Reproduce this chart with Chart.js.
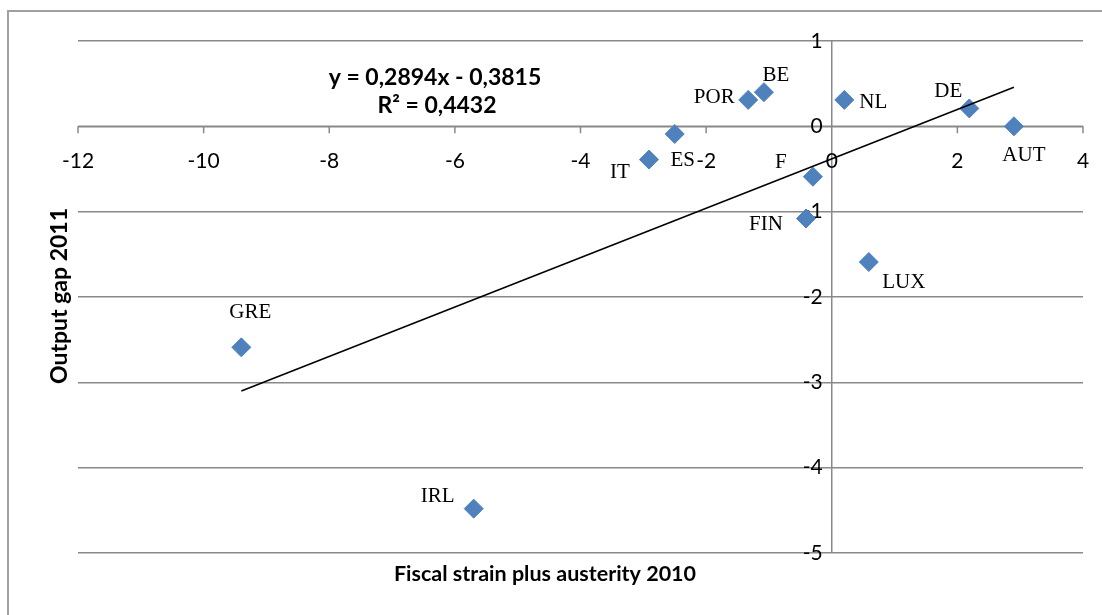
<!doctype html>
<html>
  <head>
    <meta charset="UTF-8">
    <title>Output gap vs fiscal strain</title>
    <script src="https://cdn.jsdelivr.net/npm/chart.js"></script>
    <style>
      body { margin: 0; background: #fff; }
      #wrap { position: relative; width: 1102px; height: 615px; }
    </style>
  </head>
  <body>
    <div id="wrap">
      <canvas id="chart"></canvas>
    </div>
    <script>
      const countries = ['IT', 'ES', 'POR', 'BE', 'F', 'FIN', 'NL', 'LUX', 'DE', 'AUT', 'GRE', 'IRL'];
      const fiscalStrain = [-2.91, -2.5, -1.33, -1.08, -0.3, -0.41, 0.2, 0.59, 2.19, 2.9, -9.4, -5.7];
      const outputGap = [-0.39, -0.09, 0.31, 0.40, -0.59, -1.08, 0.31, -1.59, 0.21, 0, -2.59, -4.48];
      const xTicks = [-12, -10, -8, -6, -4, -2, 0, 2, 4];
      const yTicks = [1, 0, -1, -2, -3, -4, -5];
      const slope = 0.2894;
      const intercept = -0.3815;
      const equationText = 'y = 0,2894x - 0,3815';
      const r2Text = 'R² = 0,4432';

      // where each country name sits relative to its marker (px)
      const labelOffset = {
        IT: [-29, 13], ES: [8, 26], POR: [-34, -2], BE: [12, -17],
        F: [-32, -14], FIN: [-40, 6], NL: [29, 3], LUX: [35, 20],
        DE: [-21, -17], AUT: [10, 29], GRE: [9, -35], IRL: [-36, -12]
      };

      const points = countries.map((c, i) => ({ x: fiscalStrain[i], y: outputGap[i] }));
      const xMin = Math.min(...fiscalStrain), xMax = Math.max(...fiscalStrain);
      const trend = [
        { x: xMin, y: slope * xMin + intercept },
        { x: xMax, y: slope * xMax + intercept }
      ];

      const axisColor = '#898989';
      const sans = 'Lato, "Open Sans", sans-serif';

      const excelAxes = {
        id: 'excelAxes',
        beforeDraw(chart) {
          const ctx = chart.ctx;
          ctx.save();
          ctx.strokeStyle = '#a0a0a0';
          ctx.lineWidth = 2;
          ctx.beginPath();
          ctx.moveTo(8, 700);
          ctx.lineTo(8, 11);
          ctx.lineTo(1200, 11);
          ctx.stroke();
          ctx.restore();
        },
        beforeDatasetsDraw(chart) {
          const { ctx, chartArea, scales: { x, y } } = chart;
          const x0 = x.getPixelForValue(0);
          const y0 = y.getPixelForValue(0);
          ctx.save();
          ctx.strokeStyle = axisColor;
          ctx.lineWidth = 1.5;
          ctx.beginPath();
          ctx.moveTo(x0, chartArea.top);
          ctx.lineTo(x0, chartArea.bottom);
          ctx.moveTo(chartArea.left, y0);
          ctx.lineTo(chartArea.right, y0);
          xTicks.forEach(v => {
            const px = x.getPixelForValue(v);
            ctx.moveTo(px, y0);
            ctx.lineTo(px, y0 + 7);
          });
          ctx.stroke();

          ctx.fillStyle = '#000';
          ctx.font = '21px ' + sans;
          ctx.textAlign = 'center';
          ctx.textBaseline = 'middle';
          xTicks.forEach(v => {
            ctx.fillText(String(v), x.getPixelForValue(v), y0 + 35);
          });
          ctx.textAlign = 'right';
          yTicks.forEach(v => {
            ctx.fillText(String(v), x0 - 9, y.getPixelForValue(v));
          });
          ctx.restore();
        },
        afterDraw(chart) {
          const { ctx, scales: { x, y } } = chart;
          ctx.save();
          ctx.fillStyle = '#000';
          ctx.font = '21px "Liberation Serif", "Times New Roman", serif';
          ctx.textAlign = 'center';
          ctx.textBaseline = 'middle';
          countries.forEach((c, i) => {
            const off = labelOffset[c];
            ctx.fillText(c, x.getPixelForValue(fiscalStrain[i]) + off[0],
                         y.getPixelForValue(outputGap[i]) + off[1]);
          });

          ctx.font = 'bold 23px ' + sans;
          ctx.fillText(equationText, 435, 78);
          ctx.fillText(r2Text, 437, 106);
          ctx.font = 'bold 21.5px ' + sans;
          ctx.fillText('Fiscal strain plus austerity 2010', 545, 574);

          ctx.font = 'bold 23px ' + sans;
          ctx.translate(60, 296);
          ctx.rotate(-Math.PI / 2);
          ctx.fillText('Output gap 2011', 0, 0);
          ctx.restore();
        }
      };

      new Chart(document.getElementById('chart'), {
        type: 'scatter',
        data: {
          datasets: [
            {
              label: 'Countries',
              data: points,
              order: 1,
              pointStyle: 'rectRot',
              pointRadius: 9.5,
              pointHoverRadius: 9.5,
              backgroundColor: '#4F81BD',
              borderColor: '#4F81BD',
              borderWidth: 1
            },
            {
              label: 'Trend',
              data: trend,
              order: 0,
              showLine: true,
              pointRadius: 0,
              borderColor: '#000',
              borderWidth: 1.5
            }
          ]
        },
        options: {
          responsive: true,
          maintainAspectRatio: false,
          animation: false,
          layout: { padding: { left: 78, right: 19, top: 41, bottom: 54 } },
          plugins: {
            legend: { display: false },
            tooltip: { enabled: false }
          },
          scales: {
            x: {
              min: -12,
              max: 4,
              ticks: { display: false, stepSize: 2 },
              grid: { display: false },
              border: { display: false }
            },
            y: {
              min: -5,
              max: 1,
              ticks: { display: false, stepSize: 1 },
              grid: { color: axisColor, lineWidth: 1.5, drawTicks: false },
              border: { display: false }
            }
          }
        },
        plugins: [excelAxes]
      });
    </script>
  </body>
</html>
